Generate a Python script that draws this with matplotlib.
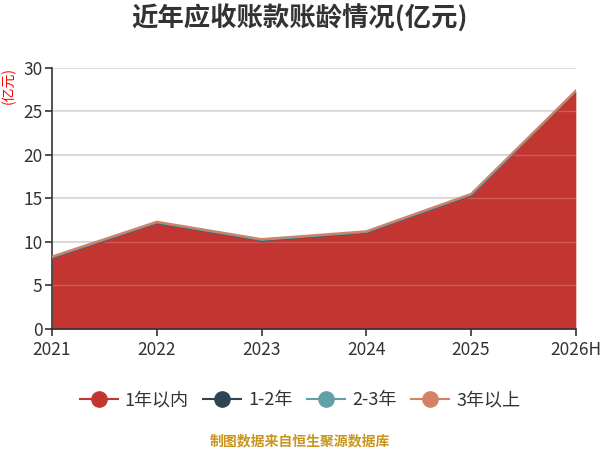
import matplotlib
matplotlib.use("Agg")
import matplotlib.pyplot as plt
from matplotlib.lines import Line2D
import numpy as np

plt.rcParams['font.family'] = ['Noto Sans CJK SC', 'DejaVu Sans']

years = ["2021", "2022", "2023", "2024", "2025", "2026H"]
series_names = ["1年以内", "1-2年", "2-3年", "3年以上"]
within_1y = [8.05, 12.05, 10.05, 10.95, 15.25, 27.2]
y1_2 = [0.15, 0.15, 0.15, 0.15, 0.15, 0.1]
y2_3 = [0.03, 0.03, 0.03, 0.03, 0.03, 0.02]
over_3y = [0.1, 0.1, 0.1, 0.1, 0.1, 0.08]
colors = ["#c23531", "#2f4554", "#61a0a8", "#d48265"]
yticks = [0, 5, 10, 15, 20, 25, 30]

fig = plt.figure(figsize=(6, 4.5), dpi=100)
ax = fig.add_axes([0.0867, 0.269, 0.873, 0.58])

x = np.arange(len(years))
data = [within_1y, y1_2, y2_3, over_3y]
base = np.zeros(len(years))
for i, (vals, c) in enumerate(zip(data, colors)):
    top = base + np.array(vals)
    ax.fill_between(x, base, top, color=c, lw=0, zorder=2)
    ax.plot(x, top, color=c, lw=1.5, zorder=3 + i)
    base = top

for t in yticks[1:]:
    ax.axhline(t, color="#d6d6d6", lw=1.5, zorder=1)
    ax.axhline(t, color="#ffffff", lw=1.0, alpha=0.2, zorder=2.5)

ax.set_xlim(0, len(years) - 1)
ax.set_ylim(0, 30)
ax.set_xticks(x)
ax.set_xticklabels(years)
ax.set_yticks(yticks)
for s in ["top", "right"]:
    ax.spines[s].set_visible(False)
for s in ["left", "bottom"]:
    ax.spines[s].set_color("#333333")
    ax.spines[s].set_linewidth(1.2)
ax.tick_params(axis="both", colors="#333333", labelsize=12.5, length=5, width=1.2)
ax.tick_params(axis="x", pad=4)
ax.tick_params(axis="y", pad=2)
for lab in ax.get_xticklabels() + ax.get_yticklabels():
    lab.set_color("#333333")

fig.text(0.5, 0.958, "近年应收账款账龄情况(亿元)", ha="center", va="center",
         fontsize=19, fontweight="bold", color="#333333")
fig.text(0.014, 0.81, "(亿元)", ha="center", va="center", rotation=90,
         fontsize=10, color="#ff0000")

handles = [Line2D([0], [0], color=c, lw=1.5, marker="o", markersize=11,
                  markerfacecolor=c, markeredgecolor=c) for c in colors]
fig.legend(handles, series_names, loc="center", bbox_to_anchor=(0.5, 0.11),
           ncol=4, frameon=False, fontsize=13, handlelength=2.1,
           handletextpad=0.4, columnspacing=0.8, labelcolor="#333333")

fig.text(0.5, 0.02, "制图数据来自恒生聚源数据库", ha="center", va="center",
         fontsize=10, color="#c8961e", fontweight="bold")

fig.savefig("out.png", dpi=100, facecolor="white")
